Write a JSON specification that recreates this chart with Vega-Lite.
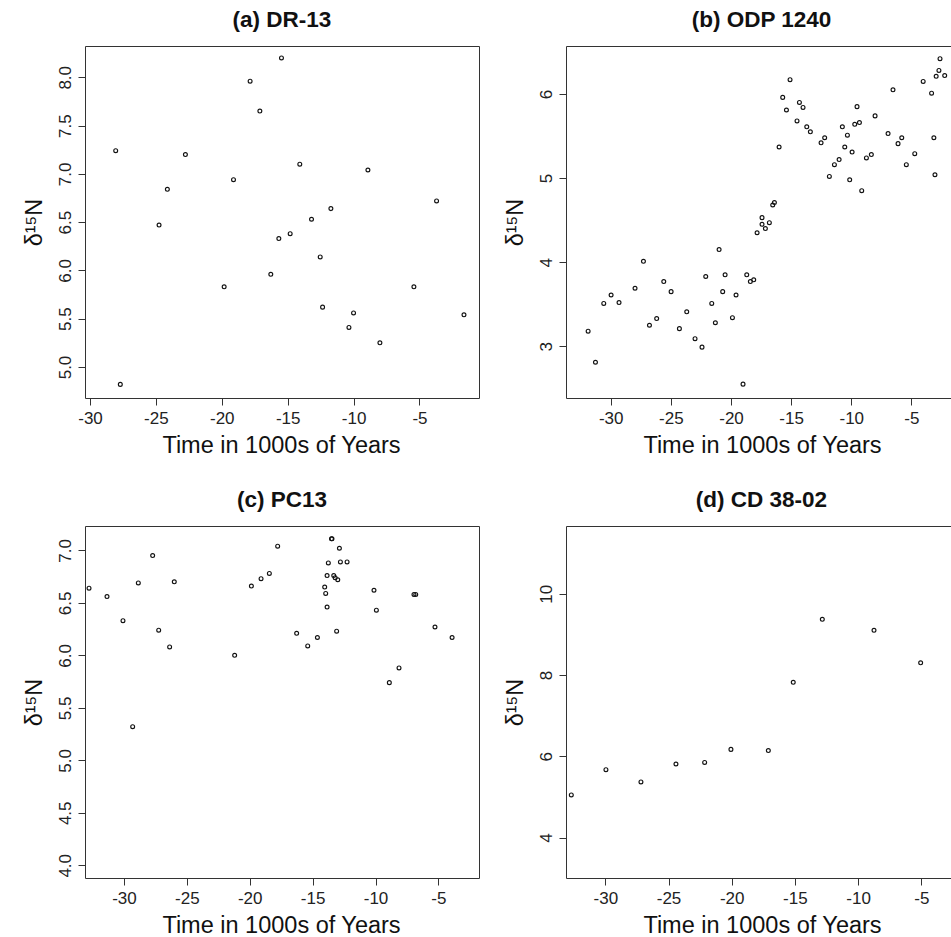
{
  "$schema": "https://vega.github.io/schema/vega-lite/v6.json",
  "autosize": {"type": "pad"},
  "padding": {"left": 21, "top": 8, "right": 0, "bottom": 0},
  "background": "white",
  "config": {
    "font": "Liberation Sans",
    "view": {"stroke": "#333", "strokeWidth": 1},
    "axis": {
      "grid": false, "domain": false, "domainColor": "#333", "domainWidth": 1,
      "tickSize": 7, "tickColor": "#333", "tickWidth": 1,
      "labelFont": "Liberation Sans", "labelFontSize": 17, "labelColor": "#222",
      "labelFlush": false, "labelOverlap": false,
      "titleFont": "Liberation Sans", "titleFontSize": 23.5, "titleFontWeight": "normal", "titleColor": "#111"
    },
    "axisX": {
      "labelBaseline": "alphabetic", "labelPadding": 18.7,
      "titleX": 196, "titleY": 54.3, "titleBaseline": "alphabetic", "titleAlign": "center"
    },
    "axisY": {
      "labelAngle": 270, "labelAlign": "center", "labelBaseline": "alphabetic", "labelPadding": 7.5,
      "titleAngle": 270, "titleAlign": "center", "titleBaseline": "alphabetic", "titleX": -43.8, "titleY": 176
    },
    "title": {"font": "Liberation Sans", "fontSize": 22.5, "fontWeight": "bold", "color": "#111", "baseline": "alphabetic", "offset": 14.3, "frame": "group", "anchor": "middle"},
    "point": {"shape": "circle", "filled": false, "size": 15, "strokeWidth": 1.15, "color": "#111", "opacity": 1}
  },
  "columns": 2,
  "spacing": {"row": 128, "column": 87},
  "bounds": "flush",
  "concat": [
    {
      "width": 394, "height": 352,
      "title": {"text": "(a) DR-13"},
      "data": {"name": "a"},
      "mark": {"type": "point"},
      "encoding": {
        "x": {"field": "t", "type": "quantitative", "scale": {"domain": [-30.38, -0.48], "nice": false, "zero": false},
          "axis": {"values": [-30, -25, -20, -15, -10, -5], "title": "Time in 1000s of Years", "labelExpr": "replace(datum.label, '−', '-')"}},
        "y": {"field": "d15N", "type": "quantitative", "scale": {"domain": [4.679, 8.324], "nice": false, "zero": false},
          "axis": {"values": [5, 5.5, 6, 6.5, 7, 7.5, 8], "format": ".1f", "title": "δ¹⁵N"}}
      }
    },
    {
      "width": 387, "height": 352,
      "title": {"text": "(b) ODP 1240", "dx": 2},
      "data": {"name": "b"},
      "view": {"stroke": null},
      "resolve": {"axis": {"x": "independent"}},
      "layer": [
        {
          "mark": {"type": "point"},
          "encoding": {
            "x": {"field": "t", "type": "quantitative", "scale": {"domain": [-33.72, -1.54], "nice": false, "zero": false},
              "axis": {"values": [-30, -25, -20, -15, -10, -5], "title": "Time in 1000s of Years", "domain": true, "labelExpr": "replace(datum.label, '−', '-')"}},
            "y": {"field": "d15N", "type": "quantitative", "scale": {"domain": [2.385, 6.571], "nice": false, "zero": false},
              "axis": {"values": [3, 4, 5, 6], "format": "d", "title": "δ¹⁵N", "domain": true}}
          }
        },
        {
          "mark": {"type": "point", "opacity": 0},
          "encoding": {
            "x": {"field": "t", "type": "quantitative", "axis": {"orient": "top", "domain": true, "ticks": false, "labels": false, "title": null}},
            "y": {"field": "d15N", "type": "quantitative"}
          }
        }
      ]
    },
    {
      "width": 394, "height": 352,
      "title": {"text": "(c) PC13"},
      "data": {"name": "c"},
      "mark": {"type": "point"},
      "encoding": {
        "x": {"field": "t", "type": "quantitative", "scale": {"domain": [-33.10, -1.77], "nice": false, "zero": false},
          "axis": {"values": [-30, -25, -20, -15, -10, -5], "title": "Time in 1000s of Years", "labelExpr": "replace(datum.label, '−', '-')"}},
        "y": {"field": "d15N", "type": "quantitative", "scale": {"domain": [3.879, 7.232], "nice": false, "zero": false},
          "axis": {"values": [4, 4.5, 5, 5.5, 6, 6.5, 7], "format": ".1f", "title": "δ¹⁵N"}}
      }
    },
    {
      "width": 387, "height": 352,
      "title": {"text": "(d) CD 38-02", "dx": 2},
      "data": {"name": "d"},
      "view": {"stroke": null},
      "resolve": {"axis": {"x": "independent"}},
      "layer": [
        {
          "mark": {"type": "point"},
          "encoding": {
            "x": {"field": "t", "type": "quantitative", "scale": {"domain": [-33.11, -2.49], "nice": false, "zero": false},
              "axis": {"values": [-30, -25, -20, -15, -10, -5], "title": "Time in 1000s of Years", "domain": true, "labelExpr": "replace(datum.label, '−', '-')"}},
            "y": {"field": "d15N", "type": "quantitative", "scale": {"domain": [3.005, 11.667], "nice": false, "zero": false},
              "axis": {"values": [4, 6, 8, 10], "format": "d", "title": "δ¹⁵N", "domain": true}}
          }
        },
        {
          "mark": {"type": "point", "opacity": 0},
          "encoding": {
            "x": {"field": "t", "type": "quantitative", "axis": {"orient": "top", "domain": true, "ticks": false, "labels": false, "title": null}},
            "y": {"field": "d15N", "type": "quantitative"}
          }
        }
      ]
    }
  ],
  "datasets": {
    "a": [
      {"t": -28.05, "d15N": 7.24}, {"t": -27.70, "d15N": 4.82}, {"t": -24.76, "d15N": 6.47}, {"t": -24.13, "d15N": 6.84},
      {"t": -22.76, "d15N": 7.20}, {"t": -19.82, "d15N": 5.83}, {"t": -19.11, "d15N": 6.94}, {"t": -17.85, "d15N": 7.96},
      {"t": -17.11, "d15N": 7.65}, {"t": -16.28, "d15N": 5.96}, {"t": -15.67, "d15N": 6.33}, {"t": -15.47, "d15N": 8.20},
      {"t": -14.81, "d15N": 6.38}, {"t": -14.08, "d15N": 7.10}, {"t": -13.19, "d15N": 6.53}, {"t": -12.53, "d15N": 6.14},
      {"t": -12.35, "d15N": 5.62}, {"t": -11.72, "d15N": 6.64}, {"t": -10.35, "d15N": 5.41}, {"t": -10.00, "d15N": 5.56},
      {"t": -8.91, "d15N": 7.04}, {"t": -8.00, "d15N": 5.25}, {"t": -5.42, "d15N": 5.83}, {"t": -3.70, "d15N": 6.72},
      {"t": -1.62, "d15N": 5.54}
    ],
    "b": [
      {"t": -31.88, "d15N": 3.18}, {"t": -31.27, "d15N": 2.81}, {"t": -30.58, "d15N": 3.51}, {"t": -29.97, "d15N": 3.61},
      {"t": -29.31, "d15N": 3.52}, {"t": -27.98, "d15N": 3.69}, {"t": -27.28, "d15N": 4.01}, {"t": -26.78, "d15N": 3.25},
      {"t": -26.18, "d15N": 3.33}, {"t": -25.59, "d15N": 3.77}, {"t": -24.98, "d15N": 3.65}, {"t": -24.29, "d15N": 3.21},
      {"t": -23.68, "d15N": 3.41}, {"t": -22.99, "d15N": 3.09}, {"t": -22.41, "d15N": 2.99}, {"t": -22.10, "d15N": 3.83},
      {"t": -21.60, "d15N": 3.51}, {"t": -21.30, "d15N": 3.28}, {"t": -20.99, "d15N": 4.15}, {"t": -20.69, "d15N": 3.65},
      {"t": -20.49, "d15N": 3.85}, {"t": -19.88, "d15N": 3.34}, {"t": -19.58, "d15N": 3.61}, {"t": -19.00, "d15N": 2.55},
      {"t": -18.69, "d15N": 3.85}, {"t": -18.39, "d15N": 3.77}, {"t": -18.11, "d15N": 3.79}, {"t": -17.83, "d15N": 4.35},
      {"t": -17.42, "d15N": 4.53}, {"t": -17.42, "d15N": 4.45}, {"t": -17.14, "d15N": 4.40}, {"t": -16.81, "d15N": 4.47},
      {"t": -16.53, "d15N": 4.68}, {"t": -16.39, "d15N": 4.71}, {"t": -16.00, "d15N": 5.37}, {"t": -15.70, "d15N": 5.96},
      {"t": -15.39, "d15N": 5.81}, {"t": -15.09, "d15N": 6.17}, {"t": -14.51, "d15N": 5.68}, {"t": -14.31, "d15N": 5.90},
      {"t": -14.01, "d15N": 5.84}, {"t": -13.70, "d15N": 5.61}, {"t": -13.40, "d15N": 5.55}, {"t": -12.51, "d15N": 5.42},
      {"t": -12.21, "d15N": 5.48}, {"t": -11.82, "d15N": 5.02}, {"t": -11.40, "d15N": 5.16}, {"t": -11.01, "d15N": 5.22},
      {"t": -10.74, "d15N": 5.61}, {"t": -10.54, "d15N": 5.37}, {"t": -10.32, "d15N": 5.51}, {"t": -10.13, "d15N": 4.98},
      {"t": -9.93, "d15N": 5.31}, {"t": -9.71, "d15N": 5.64}, {"t": -9.52, "d15N": 5.85}, {"t": -9.32, "d15N": 5.66},
      {"t": -9.13, "d15N": 4.85}, {"t": -8.74, "d15N": 5.24}, {"t": -8.33, "d15N": 5.28}, {"t": -8.02, "d15N": 5.74},
      {"t": -6.94, "d15N": 5.53}, {"t": -6.53, "d15N": 6.05}, {"t": -6.11, "d15N": 5.41}, {"t": -5.80, "d15N": 5.48},
      {"t": -5.42, "d15N": 5.16}, {"t": -4.72, "d15N": 5.29}, {"t": -4.02, "d15N": 6.15}, {"t": -3.32, "d15N": 6.01},
      {"t": -3.13, "d15N": 5.48}, {"t": -3.04, "d15N": 5.04}, {"t": -2.94, "d15N": 6.21}, {"t": -2.71, "d15N": 6.28},
      {"t": -2.62, "d15N": 6.42}, {"t": -2.23, "d15N": 6.22}
    ],
    "c": [
      {"t": -32.78, "d15N": 6.64}, {"t": -31.35, "d15N": 6.56}, {"t": -30.08, "d15N": 6.33}, {"t": -29.31, "d15N": 5.32},
      {"t": -28.86, "d15N": 6.69}, {"t": -27.72, "d15N": 6.95}, {"t": -27.24, "d15N": 6.24}, {"t": -26.37, "d15N": 6.08},
      {"t": -26.00, "d15N": 6.70}, {"t": -21.20, "d15N": 6.00}, {"t": -19.87, "d15N": 6.66}, {"t": -19.10, "d15N": 6.73},
      {"t": -18.44, "d15N": 6.78}, {"t": -17.78, "d15N": 7.04}, {"t": -16.27, "d15N": 6.21}, {"t": -15.39, "d15N": 6.09},
      {"t": -14.62, "d15N": 6.17}, {"t": -14.04, "d15N": 6.65}, {"t": -13.96, "d15N": 6.59}, {"t": -13.85, "d15N": 6.46},
      {"t": -13.85, "d15N": 6.76}, {"t": -13.75, "d15N": 6.88}, {"t": -13.50, "d15N": 7.11}, {"t": -13.46, "d15N": 7.11},
      {"t": -13.32, "d15N": 6.76}, {"t": -13.21, "d15N": 6.74}, {"t": -13.00, "d15N": 6.72}, {"t": -13.09, "d15N": 6.23},
      {"t": -12.87, "d15N": 7.02}, {"t": -12.79, "d15N": 6.89}, {"t": -12.26, "d15N": 6.89}, {"t": -10.12, "d15N": 6.62},
      {"t": -9.93, "d15N": 6.43}, {"t": -8.90, "d15N": 5.74}, {"t": -8.13, "d15N": 5.88}, {"t": -6.94, "d15N": 6.58},
      {"t": -6.80, "d15N": 6.58}, {"t": -5.27, "d15N": 6.27}, {"t": -3.91, "d15N": 6.17}
    ],
    "d": [
      {"t": -32.69, "d15N": 5.05}, {"t": -29.95, "d15N": 5.67}, {"t": -27.18, "d15N": 5.37}, {"t": -24.41, "d15N": 5.81},
      {"t": -22.14, "d15N": 5.85}, {"t": -20.06, "d15N": 6.17}, {"t": -17.10, "d15N": 6.14}, {"t": -15.13, "d15N": 7.82},
      {"t": -12.83, "d15N": 9.37}, {"t": -8.74, "d15N": 9.10}, {"t": -5.05, "d15N": 8.30}
    ]
  }
}
